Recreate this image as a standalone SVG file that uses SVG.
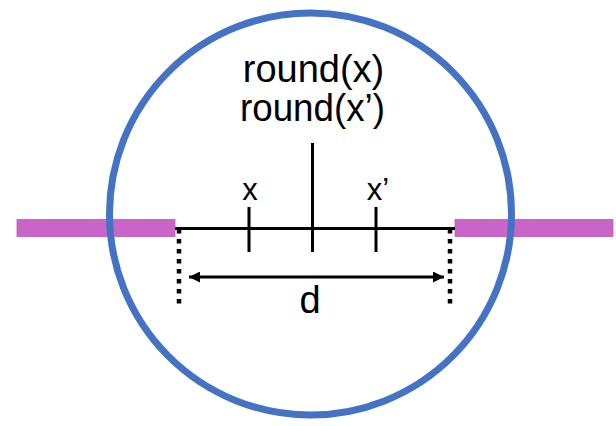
<svg xmlns="http://www.w3.org/2000/svg" width="616" height="426" viewBox="0 0 616 426">
<style>
.bar{fill:#C964C8;stroke:#B85AB6;stroke-width:0.8}
.ln{stroke:#000;stroke-width:3;fill:none}
.dot{stroke:#000;stroke-width:4.5;stroke-dasharray:4.5 5.5;fill:none}
.t{font-family:"Liberation Sans",Arial,sans-serif;fill:#000;text-anchor:middle}
</style>
<defs>
<marker id="ah" viewBox="0 0 10 10" refX="10" refY="5" markerWidth="11" markerHeight="11" markerUnits="userSpaceOnUse" orient="auto-start-reverse">
<path d="M0,0 L10,5 L0,10 z" fill="#000"/>
</marker>
</defs>
<g id="bar-left"><rect class="bar" x="17" y="219.5" width="158" height="17"/></g>
<g id="bar-right"><rect class="bar" x="455" y="219.5" width="158" height="17"/></g>
<g id="circle"><circle cx="310.5" cy="214" r="201" fill="none" stroke="#4472C4" stroke-width="7"/></g>
<g id="connectors">
<line class="ln" x1="175" y1="228.5" x2="455" y2="228.5"/>
<line class="ln" x1="249" y1="207" x2="249" y2="252"/>
<line class="ln" x1="312.5" y1="143" x2="312.5" y2="252"/>
<line class="ln" x1="376" y1="207" x2="376" y2="252"/>
<line class="dot" x1="179" y1="229" x2="179" y2="307"/>
<line class="dot" x1="450" y1="229" x2="450" y2="307"/>
<line class="ln" x1="189" y1="277" x2="444" y2="277" marker-start="url(#ah)" marker-end="url(#ah)"/>
</g>
<g id="labels">
<text class="t" x="313.5" y="82" font-size="38">round(x)</text>
<text class="t" x="312.5" y="121" font-size="38" textLength="145" lengthAdjust="spacingAndGlyphs">round(x’)</text>
<text class="t" x="250" y="199.5" font-size="31">x</text>
<text class="t" x="378" y="199.5" font-size="31">x’</text>
<text class="t" x="310" y="313" font-size="38">d</text>
</g>
</svg>
